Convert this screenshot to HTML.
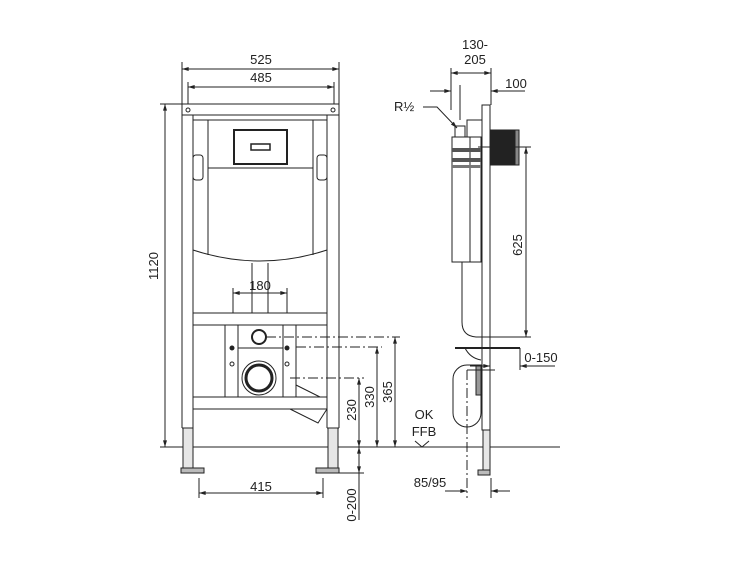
<!DOCTYPE html>
<html><head><meta charset="utf-8"><style>
html,body{margin:0;padding:0;background:#fff;}
svg{display:block;}
text{font-family:"Liberation Sans",sans-serif;font-size:13px;fill:#222;}
</style></head><body>
<svg width="750" height="563" viewBox="0 0 750 563" xmlns="http://www.w3.org/2000/svg">
<defs>
<marker id="a" viewBox="0 0 10 6" refX="10" refY="3" markerWidth="8" markerHeight="4" orient="auto-start-reverse"><path d="M0,0L10,3L0,6z" fill="#222"/></marker>
</defs>
<g stroke="#222" stroke-width="1" fill="none">
<line x1="160" y1="447" x2="560" y2="447"/>
<rect x="182" y="104" width="157" height="11"/>
<circle cx="188" cy="110" r="2"/><circle cx="333" cy="110" r="2"/>
<line x1="182" y1="115" x2="182" y2="428"/><line x1="193" y1="115" x2="193" y2="428"/>
<line x1="327" y1="115" x2="327" y2="428"/><line x1="339" y1="115" x2="339" y2="428"/>
<line x1="182" y1="428" x2="193" y2="428"/><line x1="327" y1="428" x2="339" y2="428"/>
<rect x="183" y="428" width="10" height="40" fill="#e6e6e6"/>
<rect x="328" y="428" width="10" height="40" fill="#e6e6e6"/>
<rect x="181" y="468" width="23" height="5" fill="#bbb"/>
<rect x="316" y="468" width="23" height="5" fill="#bbb"/>
<path d="M193,120 H327 V250 Q260,272 193,250 Z"/>
<line x1="208" y1="120" x2="208" y2="255"/><line x1="313" y1="120" x2="313" y2="255"/>
<line x1="208" y1="168" x2="313" y2="168"/>
<rect x="234" y="130" width="53" height="34" stroke-width="2"/>
<rect x="251" y="144" width="19" height="6" stroke-width="1.5"/>
<rect x="193" y="155" width="10" height="25" rx="3"/><rect x="317" y="155" width="10" height="25" rx="3"/>
<line x1="252" y1="263" x2="252" y2="313"/><line x1="268" y1="263" x2="268" y2="313"/>
<rect x="193" y="313" width="134" height="12"/>
<rect x="193" y="397" width="134" height="12"/>
<rect x="225" y="325" width="13" height="72"/><rect x="283" y="325" width="13" height="72"/>
<rect x="238" y="348" width="45" height="49"/>
<circle cx="259" cy="337" r="7" stroke-width="2"/>
<circle cx="259" cy="378" r="17"/><circle cx="259" cy="378" r="13" stroke-width="3"/>
<circle cx="232" cy="348" r="2" fill="#222"/><circle cx="287" cy="348" r="2" fill="#222"/>
<circle cx="232" cy="364" r="2"/><circle cx="287" cy="364" r="2"/>
<path d="M296,385 L320,397 M290,409 L318,423 L327,409"/>
<line x1="182" y1="62" x2="182" y2="104"/><line x1="339" y1="62" x2="339" y2="104"/>
<line x1="188" y1="82" x2="188" y2="104"/><line x1="334" y1="82" x2="334" y2="104"/>
<line x1="182" y1="69" x2="339" y2="69" marker-start="url(#a)" marker-end="url(#a)"/>
<line x1="188" y1="87" x2="334" y2="87" marker-start="url(#a)" marker-end="url(#a)"/>
<line x1="160" y1="104" x2="182" y2="104"/>
<line x1="165" y1="104" x2="165" y2="447" marker-start="url(#a)" marker-end="url(#a)"/>
<line x1="233" y1="288" x2="233" y2="313"/><line x1="287" y1="288" x2="287" y2="313"/>
<line x1="233" y1="293" x2="287" y2="293" marker-start="url(#a)" marker-end="url(#a)"/>
<g stroke-dasharray="10,3,2,3">
<line x1="266" y1="337" x2="400" y2="337"/><line x1="296" y1="347" x2="382" y2="347"/><line x1="290" y1="378" x2="364" y2="378"/>
</g>
<line x1="395" y1="337" x2="395" y2="447" marker-start="url(#a)" marker-end="url(#a)"/>
<line x1="377" y1="347" x2="377" y2="447" marker-start="url(#a)" marker-end="url(#a)"/>
<line x1="359" y1="378" x2="359" y2="447" marker-start="url(#a)" marker-end="url(#a)"/>
<line x1="339" y1="473" x2="364" y2="473"/>
<line x1="359" y1="447" x2="359" y2="473" marker-start="url(#a)" marker-end="url(#a)"/>
<line x1="359" y1="473" x2="359" y2="520"/>
<line x1="199" y1="478" x2="199" y2="498"/><line x1="323" y1="478" x2="323" y2="498"/>
<line x1="199" y1="493" x2="323" y2="493" marker-start="url(#a)" marker-end="url(#a)"/>
<!-- SIDE VIEW -->
<rect x="482" y="105" width="8" height="325"/>
<rect x="483" y="430" width="7" height="40" fill="#e6e6e6"/>
<rect x="478" y="470" width="12" height="5" fill="#bbb"/>
<rect x="490" y="130" width="25" height="35" fill="#222"/>
<rect x="515" y="130" width="4" height="35" fill="#888"/>
<rect x="467" y="120" width="15" height="17"/>
<rect x="455" y="126" width="10" height="11"/>
<path d="M452,137 H481 V262 H452 Z"/>
<line x1="470" y1="137" x2="470" y2="262"/>
<rect x="452" y="148" width="29" height="4" fill="#555" stroke="none"/>
<rect x="452" y="158" width="29" height="4" fill="#555" stroke="none"/>
<rect x="452" y="165" width="29" height="3" fill="#777" stroke="none"/>
<path d="M462,262 V322 Q462,336 476,337 H480"/>
<line x1="455" y1="348" x2="520" y2="348" stroke-width="2"/>
<path d="M465,348 Q470,358 481,360"/>
<path d="M467,365 A14,14 0 0 0 453,379 V413 A14,14 0 0 0 481,413 V365 Z"/>
<rect x="476" y="365" width="5" height="30" fill="#999"/>
<line x1="467" y1="370" x2="467" y2="498" stroke-dasharray="10,3,2,3"/>
<line x1="467" y1="370" x2="495" y2="370"/>
<line x1="451" y1="68" x2="451" y2="110"/><line x1="491" y1="68" x2="491" y2="105"/>
<line x1="460" y1="85" x2="460" y2="120"/>
<line x1="451" y1="73" x2="491" y2="73" marker-start="url(#a)" marker-end="url(#a)"/>
<line x1="430" y1="91" x2="451" y2="91" marker-end="url(#a)"/>
<line x1="525" y1="91" x2="491" y2="91" marker-end="url(#a)"/>
<path d="M423,107 H437 L457,128" marker-end="url(#a)"/>
<line x1="478" y1="147" x2="531" y2="147"/><line x1="478" y1="337" x2="531" y2="337"/>
<line x1="526" y1="147" x2="526" y2="337" marker-start="url(#a)" marker-end="url(#a)"/>
<line x1="520" y1="348" x2="520" y2="370"/>
<line x1="470" y1="366" x2="490" y2="366" marker-end="url(#a)"/>
<line x1="555" y1="366" x2="520" y2="366" marker-end="url(#a)"/>
<line x1="491" y1="478" x2="491" y2="498"/>
<line x1="445" y1="491" x2="467" y2="491" marker-end="url(#a)"/>
<line x1="510" y1="491" x2="491" y2="491" marker-end="url(#a)"/>
<path d="M415,441 L422,447 L429,441"/>
</g>
<text x="261" y="64" text-anchor="middle">525</text>
<text x="261" y="82" text-anchor="middle">485</text>
<text x="260" y="290" text-anchor="middle">180</text>
<text x="261" y="491" text-anchor="middle">415</text>
<text transform="translate(158,266) rotate(-90)" text-anchor="middle">1120</text>
<text transform="translate(356,410) rotate(-90)" text-anchor="middle">230</text>
<text transform="translate(374,397) rotate(-90)" text-anchor="middle">330</text>
<text transform="translate(392,392) rotate(-90)" text-anchor="middle">365</text>
<text transform="translate(356,505) rotate(-90)" text-anchor="middle">0-200</text>
<text x="475" y="49" text-anchor="middle">130-</text>
<text x="475" y="64" text-anchor="middle">205</text>
<text x="516" y="88" text-anchor="middle">100</text>
<text x="394" y="111">R½</text>
<text transform="translate(522,245) rotate(-90)" text-anchor="middle">625</text>
<text x="541" y="362" text-anchor="middle">0-150</text>
<text x="424" y="419" text-anchor="middle">OK</text>
<text x="424" y="436" text-anchor="middle">FFB</text>
<text x="430" y="487" text-anchor="middle">85/95</text>
</svg>
</body></html>
